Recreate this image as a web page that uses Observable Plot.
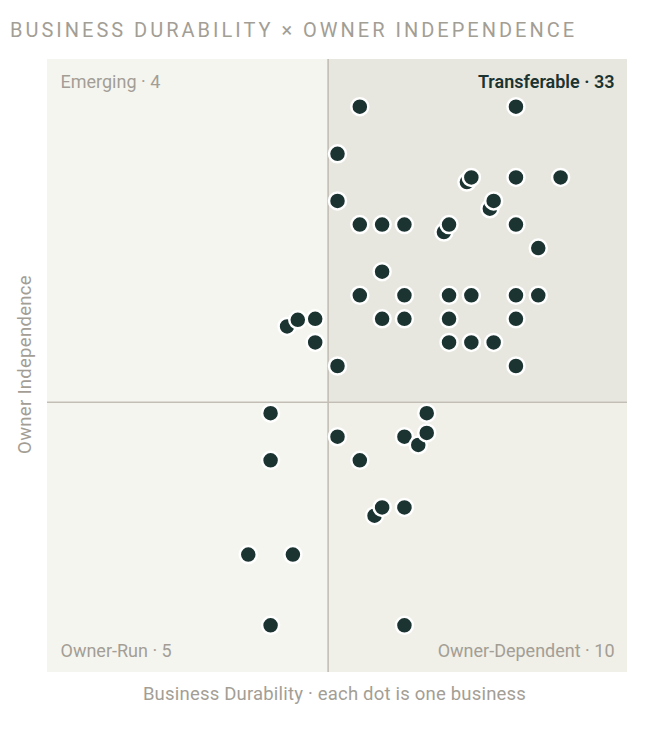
<!DOCTYPE html>
<html>
<head>
<meta charset="utf-8">
<script src="https://cdn.jsdelivr.net/npm/d3@7"></script>
<script src="https://cdn.jsdelivr.net/npm/@observablehq/plot@0.6"></script>
<style>
  html, body { margin: 0; padding: 0; background: #ffffff; }
  body { width: 660px; height: 730px; overflow: hidden; font-family: Roboto, "Noto Sans", sans-serif; }
  #title { height: 50px; box-sizing: border-box; padding: 20px 0 0 10px; font-size: 20px; line-height: 20px; letter-spacing: 3px; color: #a39e95; font-weight: 400; white-space: nowrap; }
  #chart svg { display: block; }
</style>
</head>
<body>
<div id="title">BUSINESS DURABILITY × OWNER INDEPENDENCE</div>
<div id="chart"></div>
<script>
// Each dot is one business: durability score (x) and owner-independence score (y)
const durability = [
  14, 21, 13, 18.8, 19, 21, 23, 13, 19.83, 20, 14, 15, 16, 17.77, 18, 21, 22, 15, 14, 16, 18, 19, 21, 22, 15, 16, 18, 21, 18, 19, 20, 13, 21,
  10.74, 11.22, 12, 12,
  10, 10, 9, 11, 10,
  17, 13, 16, 16.62, 17, 14, 14.66, 15, 16, 16
];
const independence = [
  24, 24, 22, 20.8, 21, 21, 21, 20, 19.67, 20, 19, 19, 19, 18.68, 19, 19, 18, 17, 16, 16, 16, 16, 16, 16, 15, 15, 15, 15, 14, 14, 14, 13, 13,
  14.68, 14.96, 15, 14,
  11, 9, 5, 5, 2,
  11, 10, 10, 9.65, 10.16, 9, 6.65, 7, 7, 2
];
const scoreDomain = [0, 26];
const durabilityCut = 12.58;
const independenceCut = 11.46;
const quadrantNames = ["Emerging", "Transferable", "Owner-Run", "Owner-Dependent"];
const xLabel = "Business Durability · each dot is one business";
const yLabel = "Owner Independence";

const dots = durability.map((x, i) => ({x, y: independence[i]}));
const count = (fx, fy) => dots.filter(d => fx(d.x) && fy(d.y)).length;
const hiX = v => v >= durabilityCut, loX = v => v < durabilityCut;
const hiY = v => v >= independenceCut, loY = v => v < independenceCut;

const [lo, hi] = scoreDomain;
const quadrants = [
  {x1: lo, x2: durabilityCut, y1: independenceCut, y2: hi, fill: "#f5f5f0", name: quadrantNames[0], n: count(loX, hiY), anchor: "top-left"},
  {x1: durabilityCut, x2: hi, y1: independenceCut, y2: hi, fill: "#e8e7df", name: quadrantNames[1], n: count(hiX, hiY), anchor: "top-right"},
  {x1: lo, x2: durabilityCut, y1: lo, y2: independenceCut, fill: "#f5f5f0", name: quadrantNames[2], n: count(loX, loY), anchor: "bottom-left"},
  {x1: durabilityCut, x2: hi, y1: lo, y2: independenceCut, fill: "#f0efe8", name: quadrantNames[3], n: count(hiX, loY), anchor: "bottom-right"}
];

const grey = "#a39e95";
const dark = "#1b3431";
const labelFont = 18;
const axisFont = 18.5;

const label = (q, opts) => Plot.text([`${q.name} · ${q.n}`], {
  frameAnchor: q.anchor,
  fontSize: labelFont,
  fill: q.name === "Transferable" ? dark : grey,
  fontWeight: q.name === "Transferable" ? 600 : 400,
  ...opts
});

const chart = Plot.plot({
  width: 660,
  height: 680,
  marginLeft: 47,
  marginRight: 33,
  marginTop: 9,
  marginBottom: 58,
  style: {fontFamily: "Roboto, 'Noto Sans', sans-serif", background: "transparent", overflow: "visible"},
  x: {domain: scoreDomain, axis: null},
  y: {domain: scoreDomain, axis: null},
  marks: [
    Plot.rect(quadrants, {x1: "x1", x2: "x2", y1: "y1", y2: "y2", fill: "fill"}),
    Plot.ruleX([durabilityCut], {stroke: "#c3beb5", strokeWidth: 1.6}),
    Plot.ruleY([independenceCut], {stroke: "#c3beb5", strokeWidth: 1.6}),
    label(quadrants[0], {dx: 13, dy: 16, lineAnchor: "top"}),
    label(quadrants[1], {dx: -13, dy: 16, lineAnchor: "top"}),
    label(quadrants[2], {dx: 13, dy: -15.5, lineAnchor: "bottom"}),
    label(quadrants[3], {dx: -13, dy: -15.5, lineAnchor: "bottom"}),
    Plot.dot(dots, {x: "x", y: "y", r: 8.5, fill: dark, stroke: "#ffffff", strokeWidth: 2.5}),
    Plot.text([xLabel], {frameAnchor: "bottom", dx: -3, dy: 27.5, lineAnchor: "bottom", fontSize: axisFont, fill: grey}),
    Plot.text([yLabel], {frameAnchor: "left", rotate: -90, dx: -22, dy: -1.5, textAnchor: "middle", lineAnchor: "middle", fontSize: axisFont, fill: grey})
  ]
});
chart.querySelectorAll("text").forEach(t => {
  const txt = t.textContent;
  if (txt === xLabel) t.setAttribute("letter-spacing", "0.2");
  if (txt === yLabel) t.setAttribute("letter-spacing", "0.3");
});
document.getElementById("chart").appendChild(chart);
</script>
</body>
</html>
